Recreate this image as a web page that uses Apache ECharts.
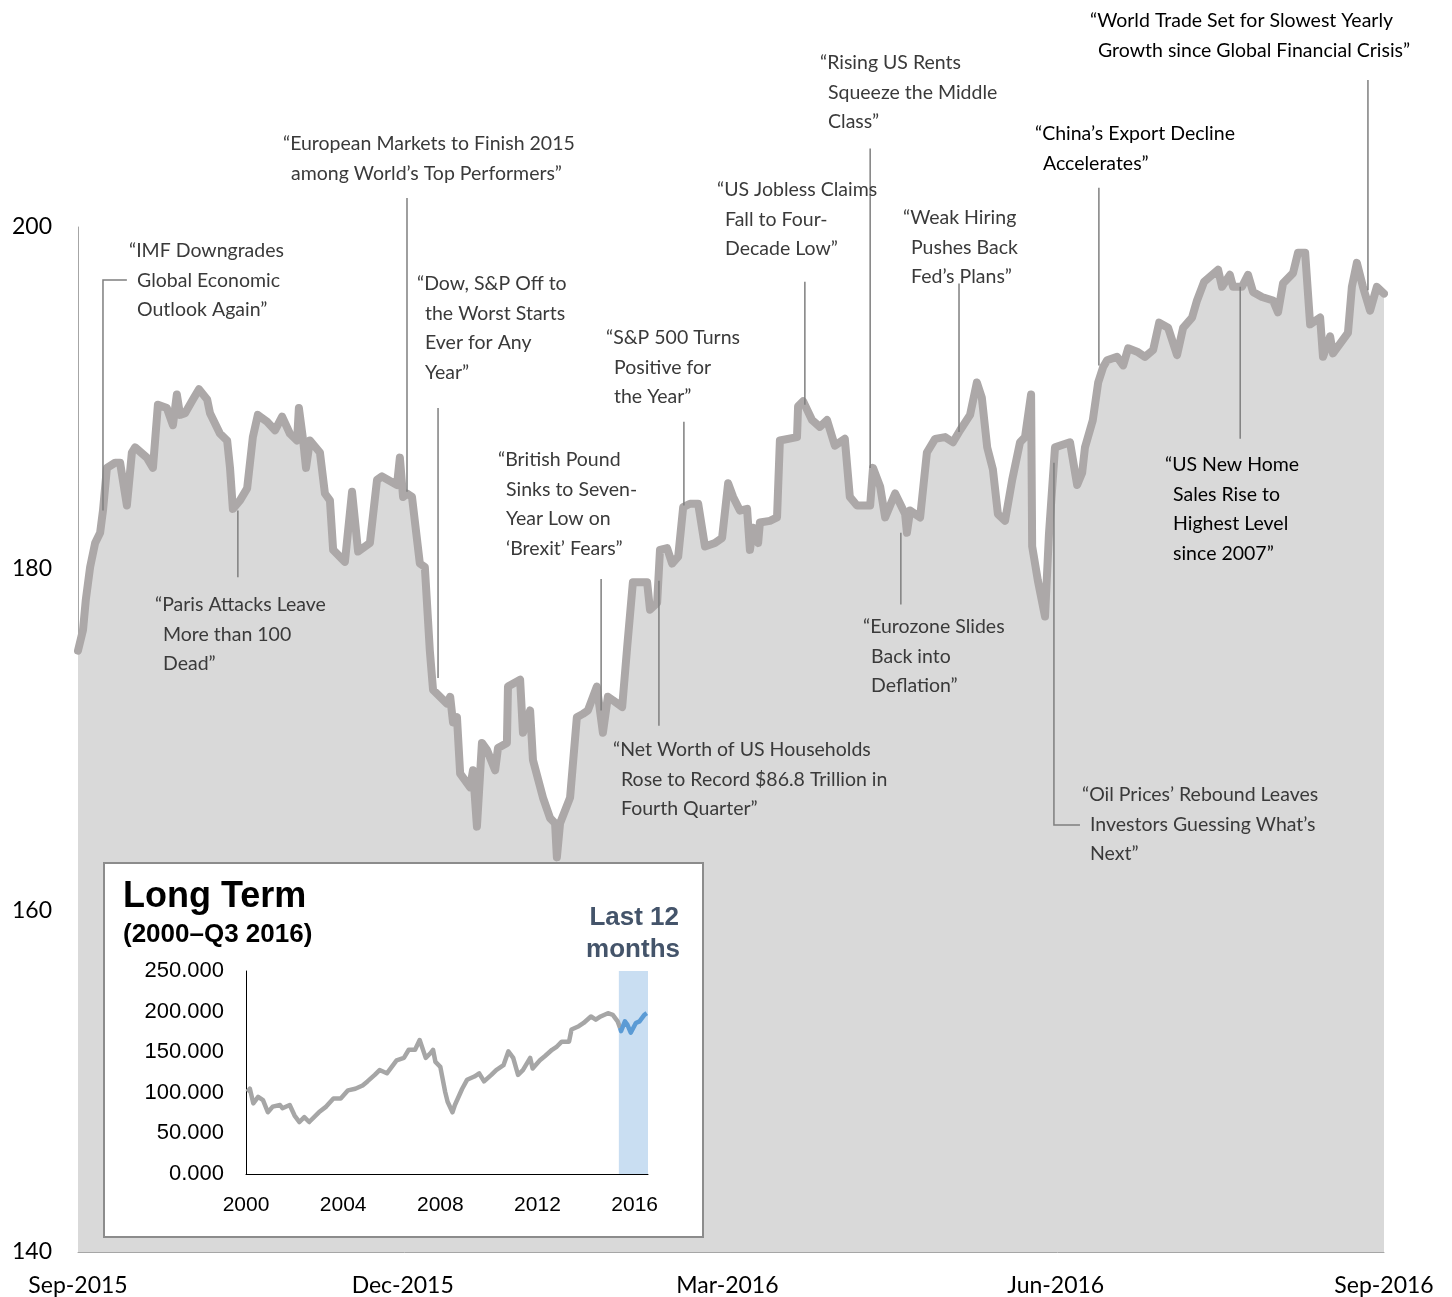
<!DOCTYPE html>
<html lang="en">
<head>
<meta charset="UTF-8">
<title>Index</title>
<style>
    *{
        margin: 0;
        padding: 0;
    }
    body{
        background: #fff;
    }
    .main{
        width: 1452px;
        height: 1297px;
    }
</style>
<script src="https://cdn.jsdelivr.net/npm/echarts@6/dist/echarts.min.js"></script>
</head>
<body>
<div class="main"></div>
<script>
// [days since 1 Sep 2015, index level]
let mainPoints = [[0,175.2],[1.4,176.4],[2.2,178.2],[3.4,180.1],[4.8,181.5],[6.2,182.1],[7.0,183.4],[8.1,185.9],[10.4,186.2],[11.8,186.2],[13.7,183.7],[15.1,186.8],[16.0,187.1],[19.3,186.5],[21.0,185.9],[22.4,189.6],[24.9,189.4],[26.6,188.4],[27.7,190.2],[28.6,189.0],[30.0,189.1],[32.2,189.9],[33.9,190.5],[36.2,189.9],[37.0,189.1],[39.8,187.9],[41.8,187.5],[42.6,185.9],[43.4,183.5],[45.4,184.0],[47.4,184.7],[49.0,187.7],[50.4,189.0],[53.0,188.6],[55.2,188.1],[57.2,188.9],[59.4,187.9],[61.4,187.5],[61.9,189.4],[63.1,187.5],[63.9,185.9],[65.0,187.5],[67.8,186.8],[69.2,184.4],[70.6,184.0],[71.5,181.1],[74.8,180.4],[76.8,184.5],[78.5,181.0],[81.8,181.5],[83.8,185.2],[85.2,185.4],[89.4,184.9],[90.2,186.5],[91.1,184.2],[92.2,184.4],[93.6,184.2],[95.8,180.3],[97.2,180.1],[98.6,175.2],[99.5,172.9],[103.4,172.1],[104.3,172.5],[105.1,171.0],[106.2,171.3],[107.1,168.0],[109.9,167.2],[110.7,168.2],[111.8,164.9],[113.2,169.8],[114.6,169.4],[116.9,168.2],[117.7,169.5],[120.2,169.8],[120.5,173.1],[123.9,173.5],[124.7,170.4],[126.7,171.7],[127.5,168.8],[130.3,166.6],[132.3,165.4],[133.7,165.1],[134.2,163.1],[135.1,165.1],[137.9,166.6],[139.8,171.3],[141.5,171.5],[142.9,171.7],[145.4,173.1],[147.1,170.4],[148.5,172.5],[149.9,172.3],[152.5,171.9],[153.9,175.4],[155.5,179.2],[159.5,179.2],[160.3,177.6],[162.3,178.0],[163.1,181.1],[165.1,181.2],[166.5,180.3],[168.2,180.7],[169.6,183.6],[171.5,183.8],[173.8,183.8],[175.7,181.3],[178.5,181.5],[180.5,181.8],[182.2,185.0],[183.6,184.2],[185.5,183.4],[187.5,183.5],[188.3,181.1],[189.2,182.4],[190.6,181.5],[191.1,182.7],[193.9,182.8],[195.9,183.0],[196.7,187.5],[201.5,187.7],[201.8,189.5],[203.2,189.8],[205.7,188.7],[207.9,188.3],[209.9,188.7],[212.1,187.2],[214.9,187.6],[216.3,184.2],[218.3,183.7],[222.0,183.7],[222.8,185.9],[224.8,184.8],[226.2,183.0],[229.0,184.4],[231.8,183.2],[232.3,182.1],[233.2,183.4],[236.0,183.0],[237.9,186.8],[240.2,187.6],[243.0,187.7],[245.2,187.4],[247.2,188.1],[250.0,189.0],[251.9,190.9],[253.3,190.0],[254.8,187.1],[256.4,185.8],[257.8,183.2],[259.8,182.8],[261.8,185.2],[264.0,187.4],[265.4,187.7],[267.1,190.2],[267.4,181.3],[269.0,179.3],[271.0,177.2],[272.1,182.0],[273.8,187.1],[278.0,187.4],[280.0,184.9],[281.4,185.6],[282.2,187.1],[284.4,188.7],[285.9,190.9],[287.3,191.8],[288.4,192.2],[291.2,192.4],[292.9,191.9],[294.3,192.9],[296.8,192.7],[299.0,192.4],[301.3,192.8],[303.0,194.4],[305.5,194.1],[308.0,192.5],[309.7,194.1],[312.2,194.7],[313.6,195.7],[315.6,196.8],[319.5,197.5],[320.6,196.5],[322.8,197.2],[323.7,196.5],[326.2,196.5],[327.9,197.2],[329.3,196.2],[331.8,195.9],[334.9,195.7],[336.3,195.0],[337.7,196.7],[340.5,197.3],[341.9,198.5],[343.9,198.5],[345.3,194.3],[348.1,194.7],[348.9,192.4],[350.9,193.6],[351.7,192.6],[355.9,193.8],[357.0,196.5],[358.4,197.9],[360.1,196.5],[362.1,195.1],[364.0,196.5],[366,196.1]];

let monthTicks = [0, 91, 182, 274, 366];
let monthLabels = ['Sep-2015', 'Dec-2015', 'Mar-2016', 'Jun-2016', 'Sep-2016'];

// inset: [year, level]
let longTerm = [[2000.05,101],[2000.16,105],[2000.3,87],[2000.5,95],[2000.7,91],[2000.9,76],[2001.1,83],[2001.4,85],[2001.5,81],[2001.8,85],[2002.0,72],[2002.2,64],[2002.4,70],[2002.6,64],[2003.0,76],[2003.3,83],[2003.6,93],[2003.9,93],[2004.2,103],[2004.5,105],[2004.8,109],[2005.0,114],[2005.3,122],[2005.5,128],[2005.8,124],[2006.0,132],[2006.2,140],[2006.5,143],[2006.7,153],[2006.96,153],[2007.15,165],[2007.4,143],[2007.6,149],[2007.7,153],[2007.8,138],[2008.0,132],[2008.2,101],[2008.3,89],[2008.5,76],[2008.6,85],[2008.9,105],[2009.1,116],[2009.4,120],[2009.6,124],[2009.8,114],[2010.1,122],[2010.3,128],[2010.6,134],[2010.8,151],[2011.0,143],[2011.2,122],[2011.4,128],[2011.7,143],[2011.8,130],[2012.1,140],[2012.3,145],[2012.6,153],[2012.8,157],[2013.0,163],[2013.3,163],[2013.4,178],[2013.7,182],[2013.9,186],[2014.2,194],[2014.4,190],[2014.6,194],[2014.9,198],[2015.1,196],[2015.3,188],[2015.4,180]];
let last12 = [[2015.4,180],[2015.44,176],[2015.6,188],[2015.7,184],[2015.84,174],[2016.05,186],[2016.2,188],[2016.4,196],[2016.5,198]];
let bandYears = [2015.35, 2016.55];

// headlines: text lines, where the text sits, and the leader line in data units
let notes = [
    {lines: ['“IMF Downgrades', 'Global Economic', 'Outlook Again”'], x: 129, y: 251, day: 7.0, from: 196.9, to: 183.4, elbow: 13.7},
    {lines: ['“Paris Attacks Leave', 'More than 100', 'Dead”'], x: 155, y: 605, day: 44.8, from: 183.4, to: 179.5},
    {lines: ['“European Markets to Finish 2015', 'among World’s Top Performers”'], x: 283, y: 144, day: 92.2, from: 201.7, to: 184.5},
    {lines: ['“Dow, S&P Off to', 'the Worst Starts', 'Ever for Any', 'Year”'], x: 417, y: 284, day: 100.9, from: 189.4, to: 173.6},
    {lines: ['“British Pound', 'Sinks to Seven-', 'Year Low on', '‘Brexit’ Fears”'], x: 498, y: 460, day: 146.6, from: 179.4, to: 171.7},
    {lines: ['“S&P 500 Turns', 'Positive for', 'the Year”'], x: 606, y: 338, day: 169.8, from: 188.6, to: 183.7},
    {lines: ['“Net Worth of US Households', 'Rose to Record $86.8 Trillion in', 'Fourth Quarter”'], x: 613, y: 750, day: 162.8, from: 179.3, to: 170.8},
    {lines: ['“US Jobless Claims', 'Fall to Four-', 'Decade Low”'], x: 717, y: 190, day: 203.7, from: 196.8, to: 189.6},
    {lines: ['“Rising US Rents', 'Squeeze the Middle', 'Class”'], x: 820, y: 63, day: 222.0, from: 204.6, to: 185.9},
    {lines: ['“Weak Hiring', 'Pushes Back', 'Fed’s Plans”'], x: 903, y: 218, day: 246.9, from: 196.7, to: 188.0},
    {lines: ['“Eurozone Slides', 'Back into', 'Deflation”'], x: 863, y: 627, day: 230.6, from: 182.1, to: 177.9},
    {lines: ['“China’s Export Decline', 'Accelerates”'], x: 1035, y: 134, day: 286.1, from: 202.3, to: 191.9, dark: true},
    {lines: ['“Oil Prices’ Rebound Leaves', 'Investors Guessing What’s', 'Next”'], x: 1082, y: 795, day: 273.5, from: 186.2, to: 165.0, elbow: 280.8},
    {lines: ['“US New Home', 'Sales Rise to', 'Highest Level', 'since 2007”'], x: 1165, y: 465, day: 325.7, from: 196.5, to: 187.6, dark: true},
    {lines: ['“World Trade Set for Slowest Yearly', 'Growth since Global Financial Crisis”'], x: 1090, y: 21, day: 361.5, from: 208.6, to: 196.3, dark: true}
];

let main = document.querySelector('.main');
let chart = echarts.init(main);

let font = 'Lato, "Noto Sans", sans-serif';
let arial = '"Liberation Sans", Arial, sans-serif';

let option = {
    backgroundColor: '#fff',
    animation: false,
    grid: [
        {left: 78, top: 227, width: 1306, height: 1025},
        {left: 246, top: 971, width: 402, height: 203}
    ],
    xAxis: [
        {
            type: 'value',
            gridIndex: 0,
            min: 0,
            max: 366,
            splitLine: {show: false},
            axisTick: {show: false},
            axisLine: {lineStyle: {color: '#a6a6a6', width: 1}},
            axisLabel: {
                customValues: monthTicks,
                formatter: v => monthLabels[monthTicks.indexOf(v)],
                color: '#000',
                fontSize: 23,
                fontFamily: font,
                margin: 22
            }
        },
        {
            type: 'value',
            gridIndex: 1,
            min: 2000,
            max: 2016.55,
            interval: 4,
            z: 10,
            splitLine: {show: false},
            axisTick: {show: false},
            axisLine: {lineStyle: {color: '#000', width: 1}},
            axisLabel: {
                color: '#000',
                fontSize: 21,
                fontFamily: arial,
                margin: 21,
                showMaxLabel: false,
                formatter: v => String(v)
            }
        }
    ],
    yAxis: [
        {
            type: 'value',
            gridIndex: 0,
            min: 140,
            max: 200,
            interval: 20,
            splitLine: {show: false},
            axisTick: {show: false},
            axisLine: {show: true, lineStyle: {color: '#a6a6a6', width: 1}},
            axisLabel: {
                color: '#000',
                fontSize: 23,
                fontFamily: font,
                margin: 26
            }
        },
        {
            type: 'value',
            gridIndex: 1,
            min: 0,
            max: 250,
            interval: 50,
            z: 10,
            splitLine: {show: false},
            axisTick: {show: false},
            axisLine: {show: true, lineStyle: {color: '#000', width: 1}},
            axisLabel: {
                color: '#000',
                fontSize: 22,
                fontFamily: arial,
                margin: 22,
                formatter: v => v.toFixed(3)
            }
        }
    ],
    series: [
        {
            type: 'line',
            xAxisIndex: 0,
            yAxisIndex: 0,
            data: mainPoints,
            symbol: 'none',
            z: 2,
            lineStyle: {color: '#aca8a8', width: 8, cap: 'round', join: 'round'},
            areaStyle: {color: '#d9d9d9', opacity: 1}
        },
        {
            type: 'line',
            xAxisIndex: 1,
            yAxisIndex: 1,
            data: longTerm,
            symbol: 'none',
            z: 10,
            lineStyle: {color: '#a6a6a6', width: 4.5, join: 'round'}
        },
        {
            type: 'line',
            xAxisIndex: 1,
            yAxisIndex: 1,
            data: last12,
            symbol: 'none',
            z: 11,
            lineStyle: {color: '#5b9bd5', width: 4.5, join: 'round'}
        }
    ]
};
chart.setOption(option);

// inset frame, band and headlines
let graphic = [];
graphic.push({
    type: 'rect',
    z: 5,
    shape: {x: 104, y: 863, width: 599, height: 374},
    style: {fill: '#fff', stroke: '#8c8c8c', lineWidth: 2}
});
let bandA = chart.convertToPixel({xAxisIndex: 1, yAxisIndex: 1}, [bandYears[0], 250]);
let bandB = chart.convertToPixel({xAxisIndex: 1, yAxisIndex: 1}, [bandYears[1], 0]);
graphic.push({
    type: 'rect',
    z: 6,
    shape: {x: bandA[0], y: bandA[1], width: bandB[0] - bandA[0], height: bandB[1] - bandA[1]},
    style: {fill: '#c9def2'}
});
graphic.push({type: 'text', z: 12, style: {text: 'Long Term', x: 123, y: 897, font: 'bold 36px ' + arial, fill: '#000', verticalAlign: 'middle'}});
graphic.push({type: 'text', z: 12, style: {text: '(2000–Q3 2016)', x: 123, y: 935, font: 'bold 26px ' + arial, fill: '#000', verticalAlign: 'middle'}});
graphic.push({type: 'text', z: 12, style: {text: 'Last 12', x: 679, y: 918, font: 'bold 26px ' + arial, fill: '#44546a', align: 'right', verticalAlign: 'middle'}});
graphic.push({type: 'text', z: 12, style: {text: 'months', x: 680, y: 950, font: 'bold 26px ' + arial, fill: '#44546a', align: 'right', verticalAlign: 'middle'}});

notes.forEach(n => {
    let top = chart.convertToPixel({xAxisIndex: 0, yAxisIndex: 0}, [n.day, n.from]);
    let bottom = chart.convertToPixel({xAxisIndex: 0, yAxisIndex: 0}, [n.day, n.to]);
    let pts = [top, bottom];
    if (n.elbow != null) {
        if (n.y > top[1] + 100) {
            // bend at the bottom, towards text placed lower down
            let end = chart.convertToPixel({xAxisIndex: 0, yAxisIndex: 0}, [n.elbow, n.to]);
            pts = [top, bottom, end];
        } else {
            let start = chart.convertToPixel({xAxisIndex: 0, yAxisIndex: 0}, [n.elbow, n.from]);
            pts = [start, top, bottom];
        }
    }
    graphic.push({
        type: 'polyline',
        z: 3,
        shape: {points: pts},
        style: {stroke: '#7f7f7f', lineWidth: 1.5, fill: null}
    });
    n.lines.forEach((line, i) => {
        graphic.push({
            type: 'text',
            z: 4,
            style: {
                text: line,
                x: i == 0 ? n.x : n.x + 8,
                y: n.y + i * 29.5,
                font: '19.5px ' + font,
                fill: n.dark ? '#000' : '#3a3a3a',
                verticalAlign: 'middle'
            }
        });
    });
});
chart.setOption({graphic});
</script>
</body>
</html>
